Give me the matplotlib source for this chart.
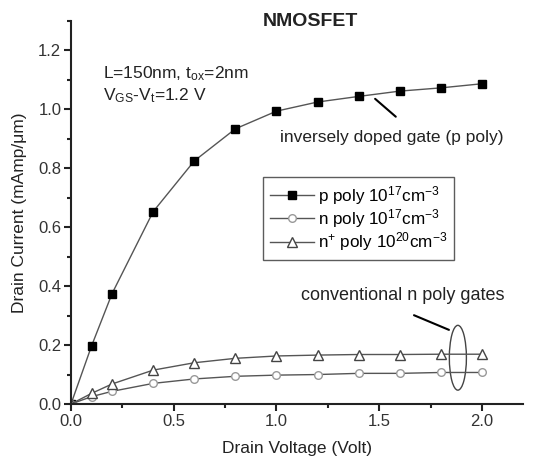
import matplotlib
matplotlib.use("Agg")
import matplotlib.pyplot as plt
from matplotlib.patches import Ellipse
from matplotlib.ticker import MultipleLocator

plt.rcParams['font.family'] = ['Liberation Sans', 'DejaVu Sans']
plt.rcParams['mathtext.default'] = 'regular'

vd = [0.0, 0.1, 0.2, 0.4, 0.6, 0.8, 1.0, 1.2, 1.4, 1.6, 1.8, 2.0]
p_poly = [0.0, 0.197, 0.375, 0.653, 0.825, 0.934, 0.994, 1.025, 1.044, 1.062, 1.073, 1.087]
n_poly = [0.0, 0.025, 0.043, 0.070, 0.085, 0.094, 0.098, 0.100, 0.104, 0.104, 0.107, 0.107]
nplus_poly = [0.0, 0.036, 0.068, 0.115, 0.140, 0.155, 0.163, 0.166, 0.168, 0.168, 0.169, 0.169]
labels = [r'p poly 10$^{17}$cm$^{-3}$', r'n poly 10$^{17}$cm$^{-3}$', r'n$^{+}$ poly 10$^{20}$cm$^{-3}$']
xticks = [0.0, 0.5, 1.0, 1.5, 2.0]
yticks = [0.0, 0.2, 0.4, 0.6, 0.8, 1.0, 1.2]

fig = plt.figure(figsize=(5.33, 4.58), dpi=100)
ax = fig.add_axes([71/533, 54/458, 452/533, 383/458])

lc = '#555555'
ax.plot(vd, p_poly, color=lc, lw=1, marker='s', ms=5.5, mfc='black', mec='black', label=labels[0])
ax.plot(vd, n_poly, color=lc, lw=1, marker='o', ms=5.5, mfc='white', mec='#999999', label=labels[1])
ax.plot(vd, nplus_poly, color=lc, lw=1, marker='^', ms=7, mfc='white', mec='#444444', label=labels[2])

ax.set_xlim(0, 2.2)
ax.set_ylim(0, 1.3)
ax.xaxis.set_minor_locator(MultipleLocator(0.25))
ax.yaxis.set_minor_locator(MultipleLocator(0.1))
ax.set_xticks(xticks)
ax.set_xticklabels([f'{v:.1f}' for v in xticks])
ax.set_yticks(yticks)
ax.set_yticklabels([f'{v:.1f}' for v in yticks])
for s in ['top', 'right']:
    ax.spines[s].set_visible(False)
for s in ['left', 'bottom']:
    ax.spines[s].set_linewidth(1.5)
    ax.spines[s].set_color('#222222')
ax.tick_params(which='major', length=5, width=1.5, labelsize=12, labelcolor='#333333', color='#222222', pad=2)
ax.tick_params(which='minor', length=3, width=1.5, color='#222222')

ax.set_xlabel('Drain Voltage (Volt)', fontsize=12.5, color='#222222', labelpad=9)
ax.set_ylabel('Drain Current (mAmp/\u03bcm)', fontsize=12.5, color='#222222', labelpad=8)

fig.text(310/533, 1 - 22/458, 'NMOSFET', fontsize=14, fontweight='bold', ha='center', va='center', color='#222222')

ax.text(0.155, 1.12, r'L=150nm, t$_{ox}$=2nm', fontsize=12.5, color='#222222', va='center')
ax.text(0.155, 1.045, r'V$_{GS}$-V$_{t}$=1.2 V', fontsize=12.5, color='#222222', va='center')

ax.text(1.562, 0.906, 'inversely doped gate (p poly)', fontsize=12.5, color='#222222', ha='center', va='center')
ax.annotate('', xy=(1.47, 1.042), xytext=(1.591, 0.969),
            arrowprops=dict(arrowstyle='-', color='black', lw=1.5))

ax.text(1.615, 0.368, 'conventional n poly gates', fontsize=13, color='#222222', ha='center', va='center')
ax.annotate('', xy=(1.852, 0.248), xytext=(1.657, 0.305),
            arrowprops=dict(arrowstyle='-', color='black', lw=1.5))
ax.add_patch(Ellipse((1.883, 0.157), 0.083, 0.22, fill=False, edgecolor='#444444', lw=1))

leg = ax.legend(loc='upper left', bbox_to_anchor=(263/533, 1 - 177/458), bbox_transform=fig.transFigure,
                fancybox=False, edgecolor='#333333', fontsize=12.3, handlelength=2.6,
                borderpad=0.4, labelspacing=0.02, handletextpad=0.2, borderaxespad=0)
leg.get_frame().set_linewidth(1)

fig.savefig('out.png', dpi=100)
